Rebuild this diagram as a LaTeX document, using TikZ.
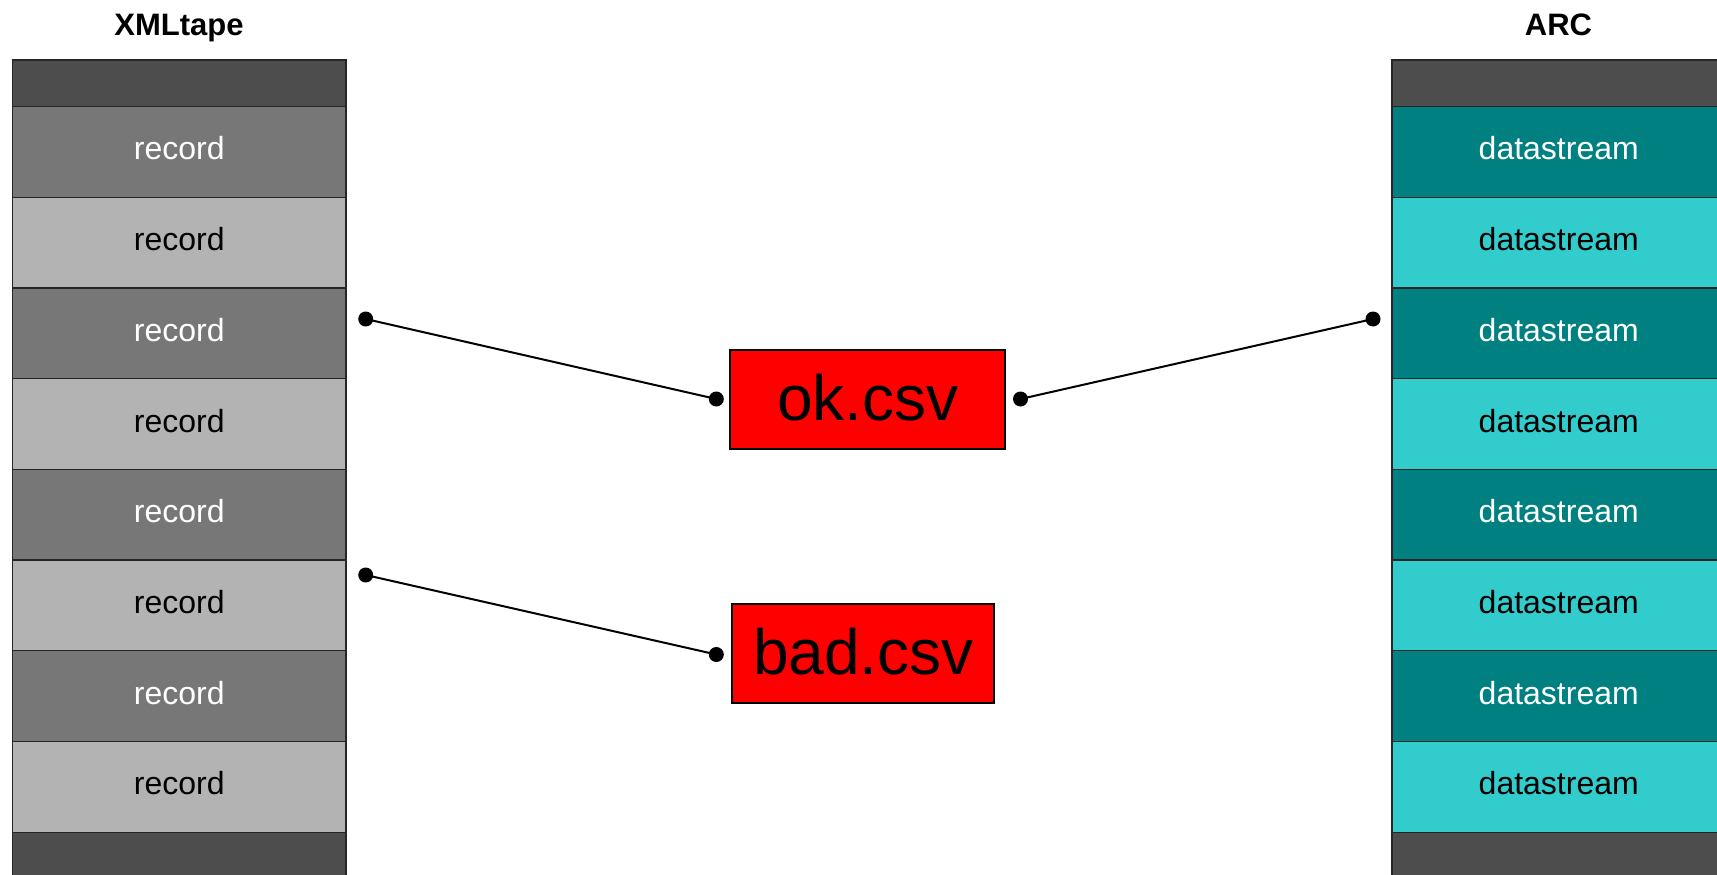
\documentclass[tikz,border=0pt]{standalone}
\usepackage{fontspec}
\setmainfont{Liberation Sans}
\definecolor{hdrgray}{HTML}{4D4D4D}
\definecolor{dkgray}{HTML}{777777}
\definecolor{ltgray}{HTML}{B3B3B3}
\definecolor{tealdk}{HTML}{008080}
\definecolor{teallt}{HTML}{33CCCC}
\definecolor{csvred}{HTML}{FF0000}
\begin{document}
\begin{tikzpicture}[x=1pt,y=-1pt,
  cell/.style={draw=black!85, line width=1.2pt, minimum width=333.5pt, minimum height=90.7pt,
    inner sep=0pt, outer sep=0pt, anchor=north west, text depth=7pt, font=\fontsize{32}{38}\selectfont},
  hdr/.style={cell, fill=hdrgray, minimum height=46.5pt},
  foot/.style={cell, fill=hdrgray, minimum height=80pt},
  dkrec/.style={cell, fill=dkgray, text=white},
  ltrec/.style={cell, fill=ltgray, text=black},
  dkds/.style={cell, fill=tealdk, text=white},
  ltds/.style={cell, fill=teallt, text=black},
  csvbox/.style={draw=black, line width=2pt, fill=csvred, minimum height=98.6pt, inner sep=0pt,
    text depth=4pt, font=\fontsize{64}{76}\selectfont},
  dotn/.style={circle, fill=black, minimum size=15pt, inner sep=0pt},
  conn/.style={line width=2pt},
  ttl/.style={font=\bfseries\fontsize{31}{37}\selectfont, anchor=base}]
\useasboundingbox (0,0) rectangle (1717,875);
\fill[white] (0,0) rectangle (1717,875);

% titles
\node[ttl] (tleft) at (179,35.5) {XMLtape};
\node[ttl] (tright) at (1558.5,35.5) {ARC};

% left column
\node[hdr] (lh) at (12.5,60) {};
\node[dkrec] (r1) at (12.5,106.5) {record};
\node[ltrec] (r2) at (12.5,197.2) {record};
\node[dkrec] (r3) at (12.5,287.9) {record};
\node[ltrec] (r4) at (12.5,378.6) {record};
\node[dkrec] (r5) at (12.5,469.3) {record};
\node[ltrec] (r6) at (12.5,560.0) {record};
\node[dkrec] (r7) at (12.5,650.7) {record};
\node[ltrec] (r8) at (12.5,741.4) {record};
\node[foot] (lf) at (12.5,832.1) {};

% right column
\node[hdr] (rh) at (1392,60) {};
\node[dkds] (d1) at (1392,106.5) {datastream};
\node[ltds] (d2) at (1392,197.2) {datastream};
\node[dkds] (d3) at (1392,287.9) {datastream};
\node[ltds] (d4) at (1392,378.6) {datastream};
\node[dkds] (d5) at (1392,469.3) {datastream};
\node[ltds] (d6) at (1392,560.0) {datastream};
\node[dkds] (d7) at (1392,650.7) {datastream};
\node[ltds] (d8) at (1392,741.4) {datastream};
\node[foot] (rf) at (1392,832.1) {};

% csv boxes
\node[csvbox, minimum width=275pt] (ok) at (867.8,399.7) {ok.csv};
\node[csvbox, minimum width=262pt] (bad) at (863.4,653.7) {bad.csv};

% dots
\node[dotn] (pl1) at (365.7,319) {};
\node[dotn] (pok1) at (716.3,399) {};
\node[dotn] (pok2) at (1020.5,399) {};
\node[dotn] (pr1) at (1373,319) {};
\node[dotn] (pl2) at (365.7,575) {};
\node[dotn] (pbad) at (716.3,654.5) {};

% connectors
\draw[conn] (pl1.center) -- (pok1.center);
\draw[conn] (pok2.center) -- (pr1.center);
\draw[conn] (pl2.center) -- (pbad.center);
\end{tikzpicture}
\end{document}
